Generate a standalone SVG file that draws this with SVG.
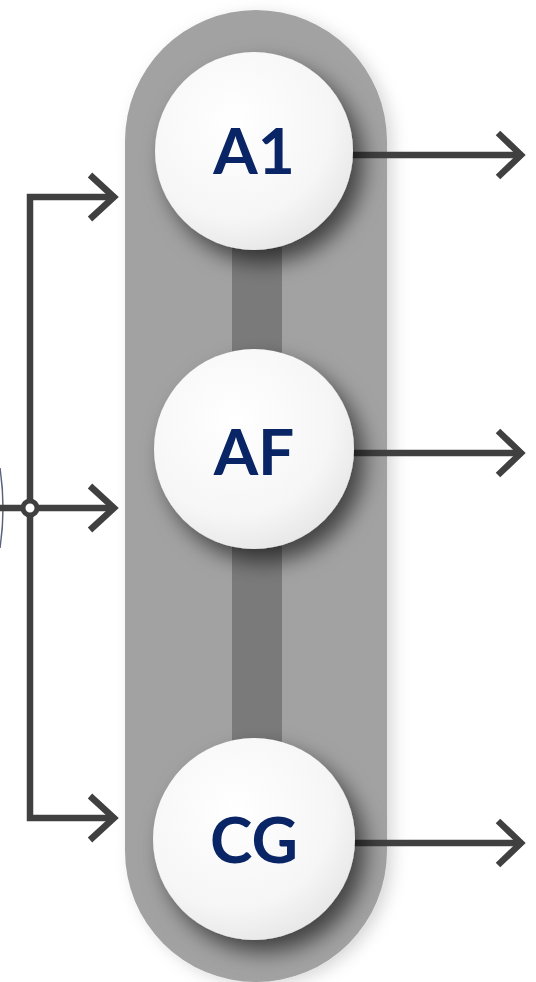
<svg xmlns="http://www.w3.org/2000/svg" width="536" height="982" viewBox="0 0 536 982">
<style>
.conn{fill:none;stroke:#404040;stroke-width:6.5;stroke-linecap:butt;stroke-linejoin:miter}
.head{fill:none;stroke:#404040;stroke-width:6.5;stroke-linecap:butt;stroke-linejoin:miter}
.node circle{fill:url(#cg);filter:url(#sh)}
.node text{font-family:Lato,"Open Sans","Liberation Sans",sans-serif;font-weight:bold;font-size:64px;fill:#0a2566;text-anchor:middle}
</style>
<defs>
<radialGradient id="cg" cx="0.4" cy="0.35" r="0.7">
<stop offset="0" stop-color="#ffffff"/>
<stop offset="0.7" stop-color="#f6f6f6"/>
<stop offset="1" stop-color="#e6e6e6"/>
</radialGradient>
<filter id="sh" x="-30%" y="-30%" width="170%" height="170%">
<feDropShadow dx="10" dy="12" stdDeviation="11" flood-color="#000" flood-opacity="0.6"/>
</filter>
<filter id="sh2" x="-20%" y="-5%" width="140%" height="110%">
<feDropShadow dx="6" dy="4" stdDeviation="8" flood-color="#000" flood-opacity="0.15"/>
</filter>
</defs>
<g id="capsule">
<rect x="125" y="10" width="262" height="972" rx="131" ry="131" fill="#a2a2a2" filter="url(#sh2)"/>
<rect x="232" y="150" width="50" height="690" fill="#7a7a7a"/>
</g>
<g id="connectors">
<path d="M0,468 Q6,508 0,548" fill="none" stroke="#2e3a58" stroke-width="1.5" opacity="0.8"/>
<path class="conn" d="M112,197 H30 V818 H112"/>
<path class="conn" d="M0,508 H112"/>
<circle cx="30" cy="508" r="7" fill="#ffffff" stroke="#404040" stroke-width="5"/>
<path class="head" d="M90,175 L114,197 L90,219"/>
<path class="head" d="M90,486 L114,508 L90,530"/>
<path class="head" d="M90,796 L114,818 L90,840"/>
<path class="conn" d="M350,155 H519"/>
<path class="conn" d="M350,453 H519"/>
<path class="conn" d="M350,843 H519"/>
<path class="head" d="M498,133 L521,155 L498,177"/>
<path class="head" d="M498,431 L521,453 L498,475"/>
<path class="head" d="M498,821 L521,843 L498,865"/>
</g>
<g id="A1" class="node">
<circle cx="254" cy="151" r="99"/>
<text x="254" y="174">A1</text>
</g>
<g id="AF" class="node">
<circle cx="254" cy="449" r="100"/>
<text x="254" y="475">AF</text>
</g>
<g id="CG" class="node">
<circle cx="254" cy="839" r="101"/>
<text x="254" y="863">CG</text>
</g>
</svg>
